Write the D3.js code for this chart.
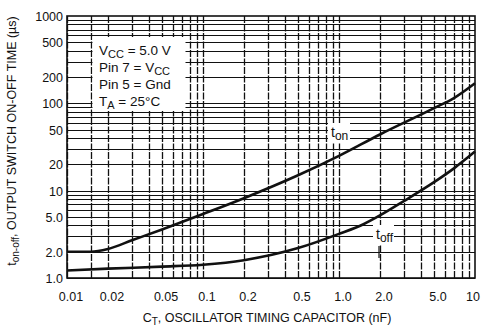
<!DOCTYPE html>
<html>
<head>
<meta charset="utf-8">
<script src="https://cdn.jsdelivr.net/npm/d3@7"></script>
<style>
  body { margin: 0; background: #fff; }
  svg text { font-family: "Liberation Sans Narrow", "Liberation Sans", Arial, sans-serif; fill: #111; }
</style>
</head>
<body>
<svg id="svg" width="484" height="330"></svg>
<script>
// Data (capacitance in nF, time in µs)
const capOn = [0.01, 0.015, 0.02, 0.03, 0.05, 0.1, 0.2, 0.5, 1, 2, 5, 7, 10];
const tOn   = [2.0, 2.0, 2.15, 2.7, 3.6, 5.4, 8.2, 15, 25, 44, 88, 115, 170];
const capOff = [0.01, 0.02, 0.05, 0.1, 0.2, 0.5, 1, 1.5, 2, 3, 5, 7, 10];
const tOff   = [1.22, 1.28, 1.35, 1.42, 1.6, 2.2, 3.2, 4.1, 5.2, 7.6, 12.5, 18, 28];

const xTicks = [0.01, 0.02, 0.05, 0.1, 0.2, 0.5, 1, 2, 5, 10];
const xTickLabels = ["0.01", "0.02", "0.05", "0.1", "0.2", "0.5", "1.0", "2.0", "5.0", "10"];
const yTicks = [1, 2, 5, 10, 20, 50, 100, 200, 500, 1000];
const yTickLabels = ["1.0", "2.0", "5.0", "10", "20", "50", "100", "200", "500", "1000"];

const margin = { left: 67, right: 9, top: 16, bottom: 52 };
const width = 484, height = 330;

const svg = d3.select("#svg");

const x = d3.scaleLog().domain([0.01, 10]).range([margin.left, width - margin.right]);
const y = d3.scaleLog().domain([1, 1000]).range([height - margin.bottom, margin.top]);
const px = v => Math.round(v) + 0.5; // snap grid to pixels

// grid lines: 1..9 in every decade (plus the extra 0.015 line on x)
const gridX = [0.015], gridY = [];
[0.01, 0.1, 1].forEach(d => { for (let i = 1; i <= 9; i++) gridX.push(d * i); });
[1, 10, 100].forEach(d => { for (let i = 1; i <= 9; i++) gridY.push(d * i); });

const grid = svg.append("g").attr("stroke", "#111");

grid.selectAll(".gx")
    .data(gridX)
    .join("line")
    .attr("class", "gx")
    .attr("x1", d => px(x(d))).attr("x2", d => px(x(d)))
    .attr("y1", y(1)).attr("y2", y(1000))
    .attr("stroke-width", 1.3)
    .attr("stroke-dasharray", "7,1.5");

grid.selectAll(".gy")
    .data(gridY)
    .join("line")
    .attr("class", "gy")
    .attr("x1", x(0.01)).attr("x2", x(10))
    .attr("y1", d => px(y(d))).attr("y2", d => px(y(d)))
    .attr("stroke-width", 1);

// frame
svg.append("rect")
    .attr("x", x(0.01)).attr("y", y(1000))
    .attr("width", x(10) - x(0.01))
    .attr("height", y(1) - y(1000))
    .attr("fill", "none")
    .attr("stroke", "#111")
    .attr("stroke-width", 1.6);

// conditions box
const box = svg.append("g");
box.append("rect")
    .attr("x", px(x(0.015)) + 1).attr("y", 37)
    .attr("width", 93).attr("height", 74)
    .attr("fill", "#fff");

const cond = [
    [["V", ""], ["CC", "sub"], [" = 5.0 V", ""]],
    [["Pin 7 = V", ""], ["CC", "sub"]],
    [["Pin 5 = Gnd", ""]],
    [["T", ""], ["A", "sub"], [" = 25°C", ""]]
];
cond.forEach((parts, i) => {
    const t = box.append("text")
        .attr("x", 99)
        .attr("y", 55 + i * 17)
        .style("font-size", "13.5px");
    let shifted = false;
    parts.forEach(p => {
        const sub = p[1] === "sub";
        t.append("tspan")
            .attr("dy", sub ? 3 : (shifted ? -3 : 0))
            .style("font-size", sub ? "11px" : "13.5px")
            .text(p[0]);
        shifted = sub;
    });
});

// curves
const line = d3.line()
    .x(d => x(d[0]))
    .y(d => y(d[1]))
    .curve(d3.curveMonotoneX);

svg.append("path")
    .datum(d3.zip(capOn, tOn))
    .attr("d", line)
    .attr("fill", "none")
    .attr("stroke", "#111")
    .attr("stroke-width", 2.6);

svg.append("path")
    .datum(d3.zip(capOff, tOff))
    .attr("d", line)
    .attr("fill", "none")
    .attr("stroke", "#111")
    .attr("stroke-width", 2.6);

// curve labels
function curveLabel(cx, cy, sub, w) {
    svg.append("rect")
        .attr("x", cx - 3).attr("y", cy - 14)
        .attr("width", w).attr("height", 19)
        .attr("fill", "#fff");
    const t = svg.append("text")
        .attr("x", cx).attr("y", cy)
        .style("font-size", "14px");
    t.append("tspan").text("t");
    t.append("tspan").attr("dy", 3).style("font-size", "12px").text(sub);
}
curveLabel(331, 137, "on", 22);
curveLabel(376, 239, "off", 21);
svg.append("line")
    .attr("x1", 379).attr("x2", 379)
    .attr("y1", 246).attr("y2", 258)
    .attr("stroke", "#111").attr("stroke-width", 1.2);

// tick labels
svg.selectAll(".xt")
    .data(xTicks)
    .join("text")
    .attr("class", "xt")
    .attr("x", d => x(d) + (d === 10 ? -2 : 4))
    .attr("y", height - margin.bottom + 23)
    .attr("text-anchor", "middle")
    .style("font-size", "12.5px")
    .text((d, i) => xTickLabels[i]);

svg.selectAll(".yt")
    .data(yTicks)
    .join("text")
    .attr("class", "yt")
    .attr("x", margin.left - 4)
    .attr("y", d => y(d) + 5)
    .attr("text-anchor", "end")
    .style("font-size", "12.5px")
    .text((d, i) => yTickLabels[i]);

// axis titles
const xt = svg.append("text")
    .attr("x", 267).attr("y", 322)
    .attr("text-anchor", "middle")
    .style("font-size", "12.5px");
xt.append("tspan").text("C");
xt.append("tspan").attr("dy", 3).style("font-size", "10px").text("T");
xt.append("tspan").attr("dy", -3).text(", OSCILLATOR TIMING CAPACITOR (nF)");

const yt = svg.append("text")
    .attr("transform", "translate(16,141) rotate(-90)")
    .attr("text-anchor", "middle")
    .style("font-size", "12.5px");
yt.append("tspan").text("t");
yt.append("tspan").attr("dy", 3).style("font-size", "10px").text("on-off");
yt.append("tspan").attr("dy", -3).text(", OUTPUT SWITCH ON-OFF TIME (µs)");
</script>
</body>
</html>
